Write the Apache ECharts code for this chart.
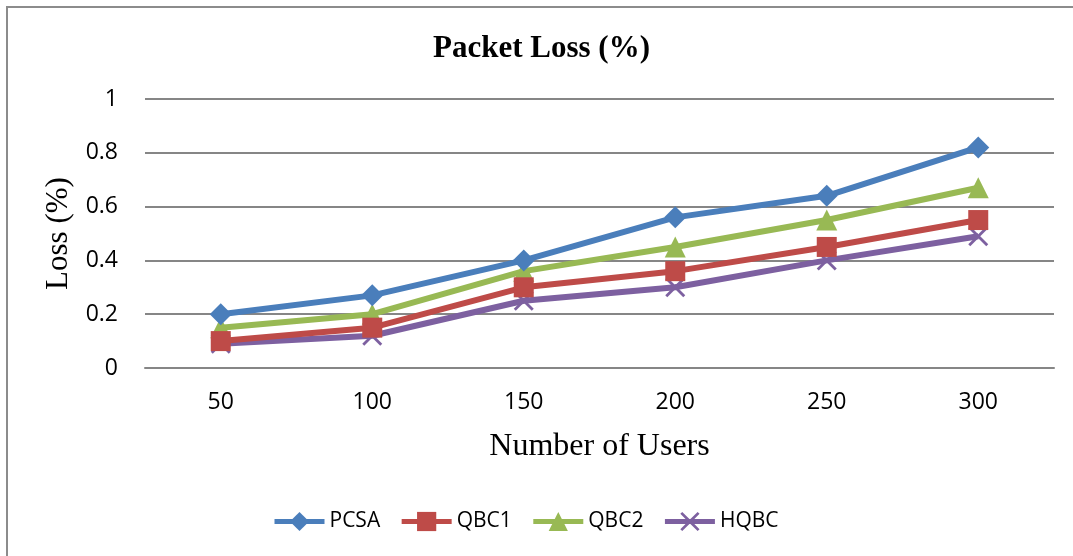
<!DOCTYPE html>
<html>
<head>
<meta charset="utf-8">
<script src="https://cdn.jsdelivr.net/npm/echarts@6/dist/echarts.min.js"></script>
<style>
html,body{margin:0;padding:0;background:#fff;}
#chart{width:1073px;height:556px;}
</style>
</head>
<body>
<div id="chart"></div>
<script>
const categories = ['50', '100', '150', '200', '250', '300'];
const pcsa = [0.20, 0.27, 0.40, 0.56, 0.64, 0.82];
const qbc1 = [0.10, 0.15, 0.30, 0.36, 0.45, 0.55];
const qbc2 = [0.15, 0.20, 0.36, 0.45, 0.55, 0.67];
const hqbc = [0.09, 0.12, 0.25, 0.30, 0.40, 0.49];
const seriesNames = ['PCSA', 'QBC1', 'QBC2', 'HQBC'];
const colors = ['#4A7EBB', '#BE4B48', '#98B954', '#7D60A0'];
const symbols = ['diamond', 'rect', 'triangle',
  'path://M0,1 L1,0 L5,4 L9,0 L10,1 L6,5 L10,9 L9,10 L5,6 L1,10 L0,9 L4,5 Z'];
const symbolSizes = [22, 20, 21, 20];
const allData = [pcsa, qbc1, qbc2, hqbc];

const chart = echarts.init(document.getElementById('chart'));
const tickFont = { fontFamily: 'Open Sans', fontSize: 23, color: '#000' };
chart.setOption({
  animation: false,
  backgroundColor: '#fff',
  color: colors,
  title: {
    text: 'Packet Loss (%)',
    left: 428, top: 28,
    textStyle: { fontFamily: 'Liberation Serif', fontWeight: 'bold', fontSize: 31, color: '#000' }
  },
  graphic: [{
    type: 'rect', shape: { x: 7, y: 7, width: 1100, height: 600 },
    style: { fill: null, stroke: '#8C8C8C', lineWidth: 2 }, silent: true
  }],
  legend: {
    left: 267, top: 506,
    itemWidth: 50, itemHeight: 24, itemGap: 19,
    lineStyle: { width: 5 },
    textStyle: { fontFamily: 'Open Sans', fontSize: 21, color: '#000' },
    data: seriesNames
  },
  grid: { left: 145, right: 19, top: 99, bottom: 188, containLabel: false },
  xAxis: {
    type: 'category', data: categories, boundaryGap: true,
    name: 'Number of Users', nameLocation: 'middle', nameGap: 63,
    nameTextStyle: { fontFamily: 'Liberation Serif', fontSize: 32, color: '#000' },
    axisLine: { lineStyle: { color: '#868686', width: 2 } },
    axisTick: { show: false },
    axisLabel: Object.assign({ margin: 23 }, tickFont)
  },
  yAxis: {
    type: 'value', min: 0, max: 1, interval: 0.2,
    name: 'Loss (%)', nameLocation: 'middle', nameGap: 68, nameRotate: 90,
    nameTextStyle: { fontFamily: 'Liberation Serif', fontSize: 31, color: '#000' },
    axisLine: { show: false }, axisTick: { show: false },
    splitLine: { lineStyle: { color: '#868686', width: 2 } },
    axisLabel: Object.assign({ margin: 27, formatter: v => String(Math.round(v * 10) / 10) }, tickFont)
  },
  series: seriesNames.map((n, i) => ({
    name: n, type: 'line', data: allData[i],
    symbol: symbols[i], symbolSize: symbolSizes[i],
    lineStyle: { width: 6, color: colors[i] },
    itemStyle: { color: colors[i] },
    z: 10 - i
  }))
});
</script>
</body>
</html>
